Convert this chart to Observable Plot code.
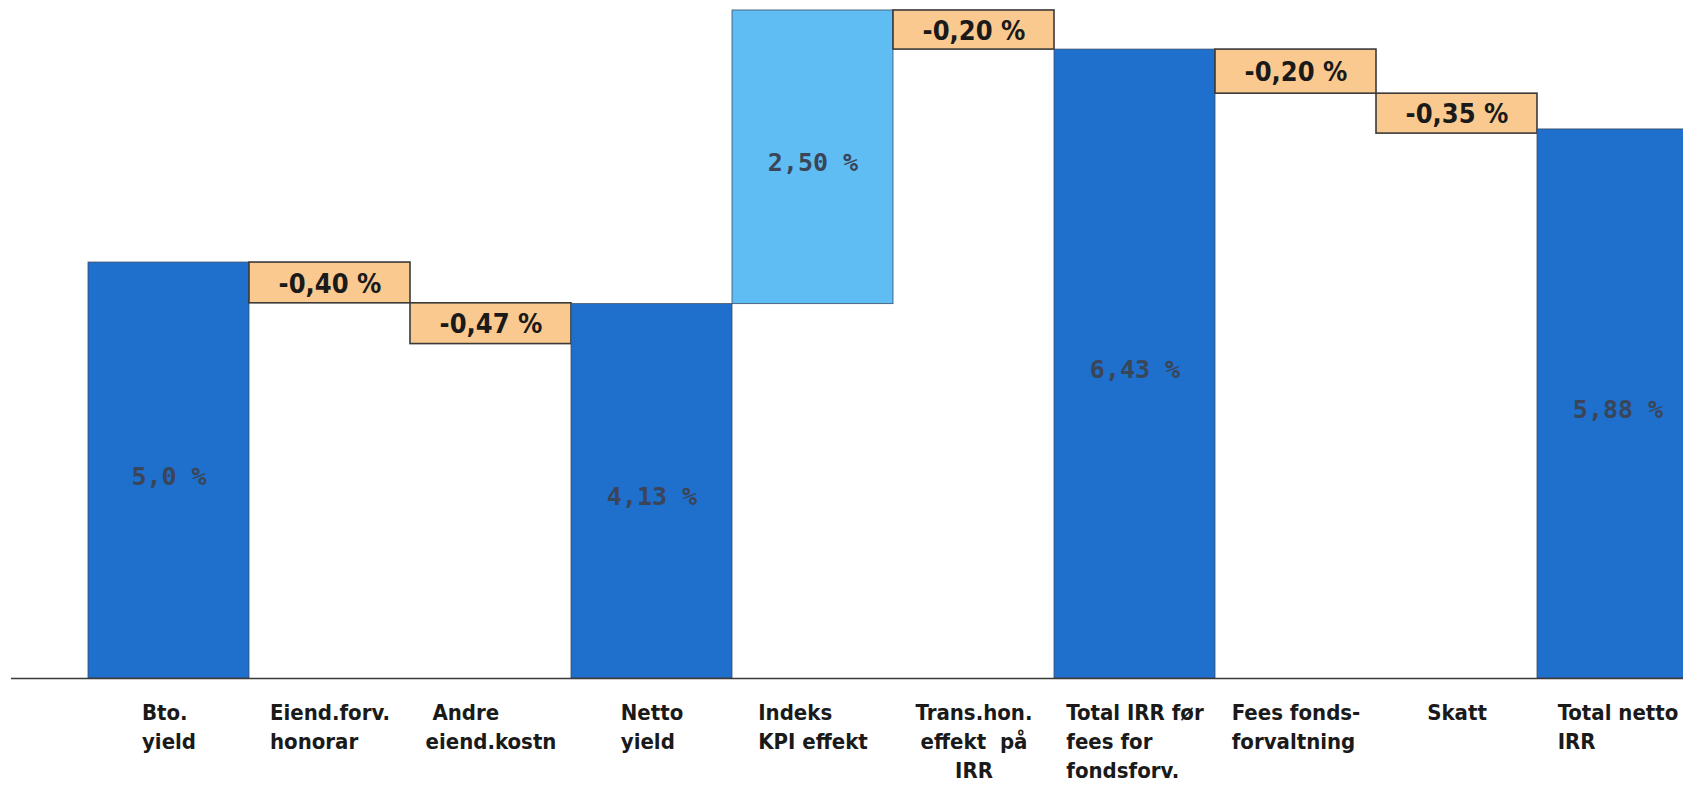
<!DOCTYPE html>
<html>
<head>
<meta charset="utf-8">
<script src="https://cdn.jsdelivr.net/npm/d3@7"></script>
<script src="https://cdn.jsdelivr.net/npm/@observablehq/plot@0.6"></script>
<style>
  html, body { margin: 0; padding: 0; background: #fff; }
  #chart svg { display: block; }
</style>
</head>
<body>
<div id="chart"></div>
<script>
// Categories (x-axis labels, line breaks as in the picture)
const categories = [
  "Bto.\nyield",
  "Eiend.forv.\nhonorar",
  " Andre\neiend.kostn",
  "Netto\nyield",
  "Indeks\nKPI effekt",
  "Trans.hon.\neffekt  på\nIRR",
  "Total IRR før\nfees for\nfondsforv.",
  "Fees fonds-\nforvaltning",
  "Skatt",
  "Total netto\nIRR"
];
// Printed values
const valueLabels = ["5,0 %", "-0,40 %", "-0,47 %", "4,13 %", "2,50 %", "-0,20 %", "6,43 %", "-0,20 %", "-0,35 %", "5,88 %"];
// Step type of each bar
const kinds = ["total", "decrease", "decrease", "total", "increase", "decrease", "total", "decrease", "decrease", "total"];
// Bar extents as drawn in the (not-to-scale) picture, in chart units
const barLow  = [0, 4.51, 4.02, 0, 4.50, 7.56, 0, 7.03, 6.55, 0];
const barHigh = [5.00, 5.00, 4.51, 4.50, 8.03, 8.03, 7.56, 7.56, 7.03, 6.60];

const kindFill = {total: "#1f6fcc", increase: "#5fbdf4", decrease: "#f9c98f"};

const rows = categories.map((c, i) => ({
  cat: c, label: valueLabels[i], kind: kinds[i], lo: barLow[i], hi: barHigh[i]
}));

// category label styling
const catFont = {family: "DejaVu Sans Condensed", size: 22, weight: "bold"};
const ctx = document.createElement("canvas").getContext("2d");
ctx.font = `${catFont.weight} ${catFont.size}px "${catFont.family}"`;
const blockWidth = s => d3.max(s.split("\n"), l => ctx.measureText(l).width);

// one text mark per category: left-aligned block centred under its bar
// (the "Trans.hon." label is centre-aligned in the original)
const labelMarks = rows.map(r => {
  const centred = r.cat.startsWith("Trans");
  return Plot.text([r], {
    x: "cat", text: "cat",
    frameAnchor: "bottom",
    lineAnchor: "top",
    textAnchor: centred ? "middle" : "start",
    dx: centred ? 0 : -blockWidth(r.cat) / 2,
    dy: 21,
    lineHeight: 1.32,
    fill: "#1a1a1a",
    fontFamily: catFont.family + ", DejaVu Sans, sans-serif",
    fontSize: catFont.size,
    fontWeight: catFont.weight
  });
});

const chart = Plot.plot({
  width: 1683,
  height: 802,
  marginTop: 0,
  marginBottom: 124,
  marginLeft: 11,
  marginRight: 0,
  x: {type: "band", domain: categories, range: [86, 1700], padding: 0, axis: null},
  y: {domain: [0, 8.15], axis: null},
  color: {type: "identity"},
  style: {background: "#fff"},
  marks: [
    Plot.barY(rows, {
      x: "cat", y1: "lo", y2: "hi",
      fill: d => kindFill[d.kind],
      stroke: d => d.kind === "decrease" ? "#3a3a3a" : "#3b4d66",
      strokeWidth: d => d.kind === "decrease" ? 1.6 : 0.8,
      insetLeft: 0, insetRight: 0
    }),
    Plot.ruleY([0], {stroke: "#3a3a3a", strokeWidth: 1.5}),
    // values inside total / increase bars
    Plot.text(rows.filter(d => d.kind !== "decrease"), {
      x: "cat", y: d => (d.lo + d.hi) / 2, text: "label",
      dy: 6,
      fill: "#3a4658",
      fontFamily: "DejaVu Sans Mono, monospace",
      fontSize: 25,
      fontWeight: "bold"
    }),
    // values in the decrease boxes
    Plot.text(rows.filter(d => d.kind === "decrease"), {
      x: "cat", y: d => (d.lo + d.hi) / 2, text: "label",
      dy: 1,
      fill: "#1a1a1a",
      fontFamily: "DejaVu Sans Condensed, DejaVu Sans, sans-serif",
      fontStretch: "condensed",
      fontSize: 27,
      fontWeight: "bold"
    }),
    ...labelMarks
  ]
});

document.getElementById("chart").appendChild(chart);
</script>
</body>
</html>
